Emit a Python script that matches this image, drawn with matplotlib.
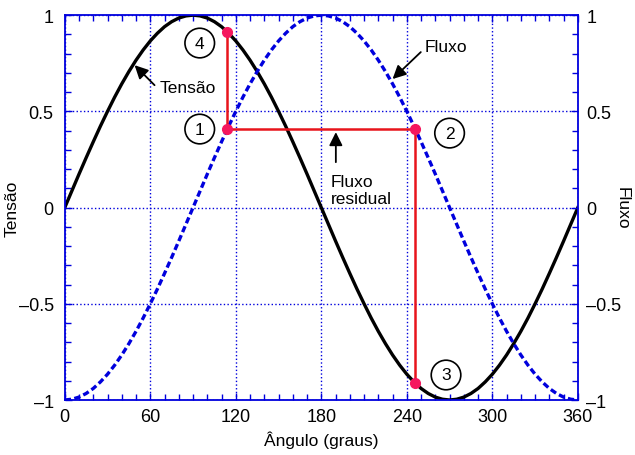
import matplotlib
matplotlib.use("Agg")
import matplotlib.pyplot as plt
from matplotlib.ticker import MultipleLocator

plt.rcParams['font.family'] = ['Liberation Sans', 'DejaVu Sans']

# Angle samples (degrees) and curve values
angulo = list(range(0, 365, 5))
tensao = [0.0, 0.087, 0.174, 0.259, 0.342, 0.423, 0.5, 0.574, 0.643, 0.707,
          0.766, 0.819, 0.866, 0.906, 0.940, 0.966, 0.985, 0.996, 1.0, 0.996,
          0.985, 0.966, 0.940, 0.906, 0.866, 0.819, 0.766, 0.707, 0.643, 0.574,
          0.5, 0.423, 0.342, 0.259, 0.174, 0.087, 0.0,
          -0.087, -0.174, -0.259, -0.342, -0.423, -0.5, -0.574, -0.643, -0.707,
          -0.766, -0.819, -0.866, -0.906, -0.940, -0.966, -0.985, -0.996, -1.0, -0.996,
          -0.985, -0.966, -0.940, -0.906, -0.866, -0.819, -0.766, -0.707, -0.643, -0.574,
          -0.5, -0.423, -0.342, -0.259, -0.174, -0.087, 0.0]
fluxo = [-1.0, -0.996, -0.985, -0.966, -0.940, -0.906, -0.866, -0.819, -0.766, -0.707,
         -0.643, -0.574, -0.5, -0.423, -0.342, -0.259, -0.174, -0.087, 0.0, 0.087,
         0.174, 0.259, 0.342, 0.423, 0.5, 0.574, 0.643, 0.707, 0.766, 0.819,
         0.866, 0.906, 0.940, 0.966, 0.985, 0.996, 1.0,
         0.996, 0.985, 0.966, 0.940, 0.906, 0.866, 0.819, 0.766, 0.707, 0.643,
         0.574, 0.5, 0.423, 0.342, 0.259, 0.174, 0.087, 0.0, -0.087,
         -0.174, -0.259, -0.342, -0.423, -0.5, -0.574, -0.643, -0.707, -0.766, -0.819,
         -0.866, -0.906, -0.940, -0.966, -0.985, -0.996, -1.0]

# residual flux path (points 4 -> 1 -> 2 -> 3)
caminho_x = [114, 114, 246, 246]
caminho_y = [0.91, 0.41, 0.41, -0.91]
pontos_rotulo = ['4', '1', '2', '3']
rotulo_x = [94.7, 94.7, 270, 267.5]
rotulo_y = [0.855, 0.408, 0.387, -0.87]

y_ticks = [-1, -0.5, 0, 0.5, 1]
y_ticklabels = ['\u20131', '\u20130.5', '0', '0.5', '1']

azul = '#0000dd'
fs = 12.5

fig = plt.figure(figsize=(6.35, 4.56), dpi=100)
ax = fig.add_axes([0.102, 0.1206, 0.808, 0.844])

ax.plot(angulo, tensao, color='black', lw=2.4)
ax.plot(angulo, fluxo, color=azul, lw=2.4, linestyle=(0, (1.9, 1.0)))
ax.plot(caminho_x, caminho_y, color='#e8141c', lw=1.8, zorder=4)
ax.plot(caminho_x, caminho_y, 'o', color='#f5175e', ms=7, zorder=5)

for t, x, y in zip(pontos_rotulo, rotulo_x, rotulo_y):
    ax.text(x, y, t, fontsize=fs, ha='center', va='center',
            bbox=dict(boxstyle='circle,pad=0.42', fc='white', ec='black', lw=1.2))

arrow = dict(arrowstyle='-|>', color='black', lw=1.3, mutation_scale=20,
             shrinkA=0, shrinkB=0)
ax.text(66.7, 0.626, 'Tensão', fontsize=fs, va='center')
ax.annotate('', xy=(49, 0.74), xytext=(63, 0.636), arrowprops=arrow)
ax.text(252.5, 0.835, 'Fluxo', fontsize=fs, va='center')
ax.annotate('', xy=(230, 0.668), xytext=(249.8, 0.808), arrowprops=arrow)
ax.text(186.5, 0.09, 'Fluxo\nresidual', fontsize=fs, va='center', ha='left',
        linespacing=1.15)
ax.annotate('', xy=(190.2, 0.392), xytext=(190.2, 0.236), arrowprops=arrow)

ax.set_xlim(0, 360)
ax.set_ylim(-1, 1)
ax.xaxis.set_major_locator(MultipleLocator(60))
ax.xaxis.set_minor_locator(MultipleLocator(10))
ax.yaxis.set_minor_locator(MultipleLocator(0.1))
ax.set_yticks(y_ticks)
ax.set_yticklabels(y_ticklabels)
ax.grid(True, which='major', color=azul, linestyle=':', lw=1.0)
ax.tick_params(which='both', direction='in', color=azul, top=True, width=1.0,
               labelsize=13)
ax.tick_params(which='major', length=5)
ax.tick_params(which='minor', length=4)
ax.tick_params(axis='x', pad=6)
ax.tick_params(axis='y', pad=8)
for s in ax.spines.values():
    s.set_color(azul)
    s.set_linewidth(1.3)

ax.set_xlabel('Ângulo (graus)', fontsize=fs)
ax.xaxis.set_label_coords(0.5, -0.078)
ax.set_ylabel('Tensão', fontsize=fs)
ax.yaxis.set_label_coords(-0.088, 0.5)

ax2 = ax.twinx()
ax2.set_ylim(-1, 1)
ax2.yaxis.set_minor_locator(MultipleLocator(0.1))
ax2.set_yticks(y_ticks)
ax2.set_yticklabels(y_ticklabels)
ax2.tick_params(which='both', direction='in', color=azul, width=1.0,
                labelsize=13, pad=6)
ax2.tick_params(which='major', length=5)
ax2.tick_params(which='minor', length=4)
for s in ax2.spines.values():
    s.set_visible(False)
ax2.set_ylabel('Fluxo', fontsize=fs, rotation=270, va='center')
ax2.yaxis.set_label_coords(1.086, 0.5)

fig.savefig('out.png', dpi=100)
